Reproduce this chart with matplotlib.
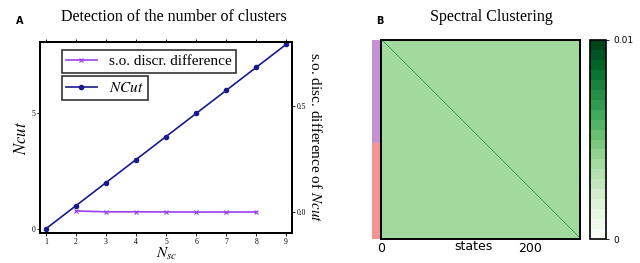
import numpy as np
import matplotlib
matplotlib.use('Agg')
import matplotlib.pyplot as plt
from matplotlib.colors import ListedColormap

plt.rcParams['mathtext.fontset'] = 'stix'
plt.rcParams['font.family'] = 'Liberation Serif'

# panel A data
n_sc = [1, 2, 3, 4, 5, 6, 7, 8, 9]
ncut = [0.0, 1.0, 2.0, 3.0, 4.0, 5.0, 6.0, 7.0, 8.0]
so_nsc = [2, 3, 4, 5, 6, 7, 8]
so_diff = [0.005, 0.001, 0.001, 0.0005, 0.0, 0.0, 0.0]

# panel B data
n_states = 267
cluster_sizes = [138, 129]
cluster_colors = ['#c593d3', '#f59393']
base_affinity = 0.0039
self_affinity = 0.0068

fig = plt.figure(figsize=(6.4, 2.63), dpi=100)

# ---- panel A
ax = fig.add_axes([0.0625, 0.113, 0.394, 0.727])
ax2 = ax.twinx()
l1, = ax2.plot(so_nsc, so_diff, color='#9b3ff0', lw=1.2, marker='x', ms=3,
               mew=0.8, label='s.o. discr. difference')
l2, = ax.plot(n_sc, ncut, color='#1a1a8c', lw=1.2, marker='o', ms=3,
              label='$NCut$')
ax.set_xlim(0.8, 9.2)
ax.set_ylim(-0.2, 8.1)
ax2.set_ylim(-0.1, 0.8)
ax.set_xticks(n_sc)
ax.set_yticks([0, 5])
ax2.set_yticks([0.0, 0.5])
ax2.set_yticklabels(['0.0', '0.5'])
for a in (ax, ax2):
    a.tick_params(labelsize=5.5, length=2, width=0.6, pad=1.5)
    for s in a.spines.values():
        s.set_linewidth(1.4)
ax.tick_params(top=True, direction='out')
ax.set_xlabel('$N_{sc}$', fontsize=11, labelpad=0)
ax.set_ylabel('$Ncut$', fontsize=12, labelpad=1)
ax2.set_ylabel('s.o. disc. difference of $Ncut$', fontsize=11,
               rotation=270, labelpad=12)
leg1 = ax.legend(handles=[l1], loc='upper left', bbox_to_anchor=(0.055, 1.0),
                 fontsize=11, fancybox=False, edgecolor='black',
                 handlelength=2, borderpad=0.3)
leg1.get_frame().set_linewidth(1.2)
ax.add_artist(leg1)
leg2 = ax.legend(handles=[l2], loc='upper left', bbox_to_anchor=(0.055, 0.86),
                 fontsize=11, fancybox=False, edgecolor='black',
                 handlelength=2, borderpad=0.3)
leg2.get_frame().set_linewidth(1.2)
ax2.set_zorder(ax.get_zorder() + 1)
ax2.patch.set_visible(False)

fig.text(0.271, 0.935, 'Detection of the number of clusters', fontsize=11.5,
         ha='center', va='center')
fig.text(0.031, 0.92, 'A', fontsize=7, fontweight='bold', family='DejaVu Sans',
         ha='center', va='center')

# ---- panel B
affinity = np.full((n_states, n_states), base_affinity)
np.fill_diagonal(affinity, self_affinity)

cmap = ListedColormap(plt.get_cmap('Greens')(np.linspace(0, 1, 20)))
axh = fig.add_axes([0.595, 0.091, 0.311, 0.757])
im = axh.imshow(affinity, cmap=cmap, vmin=0, vmax=0.01, aspect='auto',
                interpolation='nearest')
axh.set_yticks([])
axh.set_xticks([0, 200])
axh.tick_params(length=0, labelsize=9, pad=2)
for s in axh.spines.values():
    s.set_linewidth(1.4)
axh.text(n_states / 2 - 10, n_states + 10, 'states', fontsize=9,
         family='DejaVu Sans', ha='center', va='center')
for lab in axh.get_xticklabels():
    lab.set_family('DejaVu Sans')

axs = fig.add_axes([0.581, 0.091, 0.0125, 0.757])
start = 0
for size, c in zip(cluster_sizes, cluster_colors):
    axs.axhspan(start, start + size, color=c, lw=0)
    start += size
axs.set_ylim(n_states, 0)
axs.set_xlim(0, 1)
axs.axis('off')

cax = fig.add_axes([0.922, 0.091, 0.025, 0.757])
cb = fig.colorbar(im, cax=cax, ticks=[0, 0.01])
cb.ax.set_yticklabels(['0', '0.01'])
cb.ax.tick_params(labelsize=6.5, length=2, width=0.6)
for lab in cb.ax.get_yticklabels():
    lab.set_family('DejaVu Sans')
cb.outline.set_linewidth(1.2)

fig.text(0.768, 0.935, 'Spectral Clustering', fontsize=11.5,
         ha='center', va='center')
fig.text(0.594, 0.92, 'B', fontsize=7, fontweight='bold', family='DejaVu Sans',
         ha='center', va='center')

fig.savefig('out.png', dpi=100)
